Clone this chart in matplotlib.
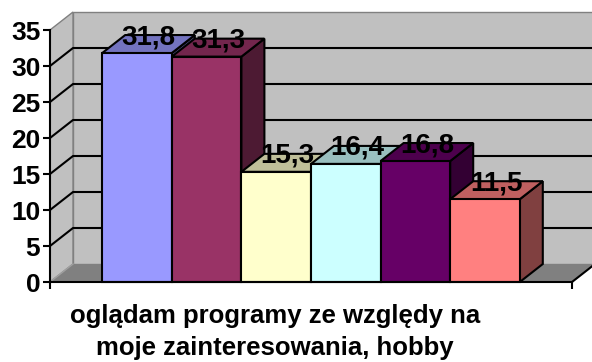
import matplotlib
matplotlib.use('Agg')
import matplotlib.pyplot as plt
from matplotlib.patches import Polygon
from matplotlib.colors import to_rgb

# values and colours for the six answers in the single category
values = [31.8, 31.3, 15.3, 16.4, 16.8, 11.5]
colors = ['#9999FF', '#993366', '#FFFFCC', '#CCFFFF', '#660066', '#FF8080']
category = 'oglądam programy ze względy na\nmoje zainteresowania, hobby'
yticks = [0, 5, 10, 15, 20, 25, 30, 35]

plt.rcParams['font.family'] = ['Liberation Sans', 'DejaVu Sans']
plt.rcParams['font.weight'] = 'bold'

W, H = 592, 362
fig = plt.figure(figsize=(W / 100, H / 100), dpi=100)
ax = fig.add_axes([50 / W, 80 / H, 522 / W, 252 / H])

x0, x1 = -1.25, 6.25
ymax = 35
ax.set_xlim(x0, x1)
ax.set_ylim(0, ymax)

# depth of the 3d box in data units (about 23 px right, 18 px up)
DX = 23 / (522 / (x1 - x0))
DY = 18 / (252 / ymax)


def shade(c, f):
    r, g, b = to_rgb(c)
    return (r * f, g * f, b * f)


def poly(pts, **kw):
    ax.add_patch(Polygon(pts, closed=True, clip_on=False, **kw))


# walls and floor
wall = '#c0c0c0'
poly([(x0 + DX, DY), (x1 + DX, DY), (x1 + DX, ymax + DY), (x0 + DX, ymax + DY)],
     facecolor=wall, edgecolor='#808080', lw=1, zorder=0)
poly([(x0, 0), (x0 + DX, DY), (x0 + DX, ymax + DY), (x0, ymax)],
     facecolor=wall, edgecolor='#808080', lw=1, zorder=0)
poly([(x0, 0), (x1, 0), (x1 + DX, DY), (x0 + DX, DY)],
     facecolor='#808080', edgecolor='none', zorder=0.5)
ax.plot([x1, x1 + DX], [0, DY], color='black', lw=1.5, clip_on=False, zorder=1)
ax.plot([x0, x0 + DX], [0, DY], color='#a0a0a0', lw=1, clip_on=False, zorder=1)

# gridlines on back and side walls
for t in yticks[1:-1]:
    ax.plot([x0, x0 + DX, x1 + DX], [t, t + DY, t + DY], color='black', lw=1.5,
            clip_on=False, zorder=1)

# tops and right sides of the columns
for i, (v, c) in enumerate(zip(values, colors)):
    l, r = i - 0.5, i + 0.5
    poly([(r, 0), (r + DX, DY), (r + DX, v + DY), (r, v)],
         facecolor=shade(c, 0.5), edgecolor='black', lw=1.5, zorder=2)
    poly([(l, v), (r, v), (r + DX, v + DY), (l + DX, v + DY)],
         facecolor=shade(c, 0.75), edgecolor='black', lw=1.5, zorder=2)

# front faces
ax.bar(range(len(values)), values, width=1, color=colors, edgecolor='black',
       linewidth=1.5, zorder=3, clip_on=False)

for i, v in enumerate(values):
    ax.text(i + DX / 2, v + DY / 2, f'{v:.1f}'.replace('.', ','), ha='center',
            va='baseline', fontsize=20, fontweight='bold', zorder=5)

ax.set_facecolor('none')
for s in ['top', 'right']:
    ax.spines[s].set_visible(False)
for s in ['left', 'bottom']:
    ax.spines[s].set_linewidth(1.5)
    ax.spines[s].set_zorder(4)

ax.set_yticks(yticks)
ax.set_yticklabels([str(t) for t in yticks], fontsize=19, fontweight='bold')
ax.tick_params(axis='y', length=5, width=1.5, pad=2)
ax.set_xticks([x0, x1])
ax.set_xticklabels(['', ''])
ax.tick_params(axis='x', length=5, width=1.5)

fig.text(275 / W, 1 - 304 / H, category, ha='center', va='top', fontsize=18.5,
         fontweight='bold', linespacing=1.4)

fig.savefig('out.png', dpi=100)
